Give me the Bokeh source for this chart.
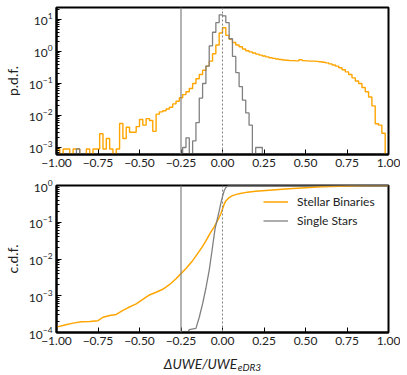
import numpy as np
from bokeh.plotting import figure
from bokeh.models import Range1d, Span, Label, FixedTicker, Legend, LegendItem
from bokeh.layouts import column
from bokeh.embed import file_html
from bokeh.resources import INLINE

# ---------------- data ----------------
bin_start = -1.0
bin_width = 0.02
n_bins = 100

# p.d.f. of Stellar Binaries, one value per bin starting at -1.00
pdf_binaries = [
    9e-4, 0, 9e-4, 9e-4, 0, 9e-4, 9e-4, 0, 0, 9e-4,
    0, 9e-4, 9e-4, 2.7e-3, 9e-4, 1.9e-3, 9e-4, 0, 9e-4, 5.6e-3,
    1.9e-3, 4.3e-3, 3.0e-3, 3.0e-3, 4.5e-3, 7.5e-3, 5.0e-3, 8.0e-3, 7.0e-3, 3.2e-3,
    1.1e-2, 1.3e-2, 1.4e-2, 1.6e-2, 1.8e-2, 2.3e-2, 2.8e-2, 3.6e-2, 4.5e-2, 5.5e-2,
    7.0e-2, 0.10, 0.14, 0.19, 0.26, 0.35, 0.50, 0.85, 1.6, 3.8,
    5.5, 3.2, 2.4, 1.9, 1.6, 1.4, 1.2, 1.05, 0.97, 0.90,
    0.83, 0.77, 0.72, 0.68, 0.64, 0.61, 0.58, 0.56, 0.54, 0.53,
    0.52, 0.52, 0.51, 0.55, 0.52, 0.51, 0.50, 0.50, 0.49, 0.48,
    0.46, 0.44, 0.41, 0.38, 0.35, 0.31, 0.27, 0.23, 0.19, 0.15,
    0.12, 0.10, 0.075, 0.055, 0.038, 0.020, 5.5e-3, 5.0e-3, 2.8e-3, 0,
]

# p.d.f. of Single Stars, one value per bin starting at -1.00
pdf_singles = [
    0, 0, 0, 0, 0, 0, 9e-4, 0, 0, 0,
    0, 0, 0, 0, 0, 0, 0, 0, 0, 0,
    0, 0, 0, 0, 0, 0, 0, 0, 0, 0,
    0, 0, 0, 0, 0, 0, 0, 0, 1e-3, 2e-3,
    0, 1.6e-3, 6e-3, 0.035, 0.1, 0.35, 1.5, 4.0, 8.0, 14.0,
    13.0, 8.0, 2.5, 0.7, 0.22, 0.08, 0.03, 0.012, 5e-3, 0,
    1e-3, 1e-3, 0, 0, 0, 0, 0, 0, 0, 0,
    0, 0, 0, 0, 0, 0, 0, 0, 0, 0,
    0, 0, 0, 0, 0, 0, 0, 0, 0, 0,
    0, 0, 0, 0, 0, 0, 0, 0, 0, 0,
]

# c.d.f. curves (x, value)
cdf_bin_x = [-1.0, -0.95, -0.90, -0.85, -0.80, -0.75, -0.72, -0.68, -0.64, -0.60,
             -0.57, -0.52, -0.48, -0.44, -0.40, -0.36, -0.32, -0.28, -0.25, -0.22,
             -0.18, -0.15, -0.12, -0.10, -0.075, -0.05, -0.03, -0.01, 0.0, 0.01,
             0.02, 0.04, 0.06, 0.10, 0.15, 0.20, 0.30, 0.40, 0.50, 0.60,
             0.70, 0.80, 0.90, 1.0]
cdf_bin_y = [1.4e-4, 1.6e-4, 1.8e-4, 1.95e-4, 2.0e-4, 2.1e-4, 2.6e-4, 2.9e-4, 3.1e-4, 4.0e-4,
             4.7e-4, 6.0e-4, 8.0e-4, 1.05e-3, 1.25e-3, 1.5e-3, 2.0e-3, 2.9e-3, 4.0e-3, 5.5e-3,
             9e-3, 0.014, 0.022, 0.031, 0.05, 0.075, 0.11, 0.17, 0.23, 0.31,
             0.38, 0.47, 0.53, 0.60, 0.66, 0.70, 0.76, 0.82, 0.87, 0.92,
             0.96, 0.99, 1.0, 1.0]

cdf_single_x = [-0.22, -0.20, -0.16, -0.14, -0.12, -0.10, -0.08, -0.063, -0.045, -0.03,
                -0.02, -0.01, 0.0, 0.01, 0.02, 0.03, 0.04, 0.06, 1.0]
cdf_single_y = [8e-5, 1.2e-4, 1.3e-4, 2.6e-4, 6e-4, 1.6e-3, 5e-3, 0.017, 0.066, 0.13,
                0.2, 0.33, 0.5, 0.72, 0.88, 0.96, 0.99, 1.0, 1.0]

x_ticks = [-1.0, -0.75, -0.5, -0.25, 0.0, 0.25, 0.5, 0.75, 1.0]
x_tick_labels = ["\u22121.00", "\u22120.75", "\u22120.50", "\u22120.25", "0.00",
                 "0.25", "0.50", "0.75", "1.00"]

ORANGE = "#FFA500"
GRAY = "#808080"
FONT = "Lato"
W = 400
BL, BR = 53, 12


def make_fig(y_lo, y_hi, height, top_b, bot_b, ylabel):
    p = figure(width=W, height=height,
               x_range=Range1d(-1, 1), y_range=Range1d(y_lo, y_hi),
               y_axis_type="log", output_backend="svg", toolbar_location=None,
               min_border_left=BL, min_border_right=BR,
               min_border_top=top_b, min_border_bottom=bot_b,
               background_fill_color="white", border_fill_color="white")
    p.outline_line_color = "black"
    p.outline_line_width = 2
    p.outline_line_alpha = 1
    p.grid.visible = False
    for ax in p.axis:
        ax.axis_line_width = 2
        ax.axis_line_color = "black"
        ax.major_tick_in = 5
        ax.major_tick_out = 0
        ax.minor_tick_in = 3
        ax.minor_tick_out = 0
        ax.major_tick_line_color = "black"
        ax.minor_tick_line_color = "black"
        ax.major_label_text_font = FONT
        ax.major_label_text_font_size = "12px"
        ax.major_label_text_color = "#222222"
        ax.major_label_standoff = 4
    p.xaxis.minor_tick_line_color = None
    p.xaxis.ticker = FixedTicker(ticks=x_ticks)
    p.xaxis.major_label_overrides = {t: l for t, l in zip(x_ticks, x_tick_labels)}
    p.yaxis.axis_label = ylabel
    p.yaxis.axis_label_text_font = FONT
    p.yaxis.axis_label_text_font_style = "normal"
    p.yaxis.axis_label_text_font_size = "14px"
    p.yaxis.axis_label_text_color = "#222222"
    p.yaxis.axis_label_standoff = 5
    p.add_layout(Span(location=-0.25, dimension="height", line_color=GRAY, line_width=1.2))
    p.add_layout(Span(location=0.0, dimension="height", line_color=GRAY, line_width=1,
                      line_dash="2 2"))
    return p


def step_xy(vals, floor):
    edges = bin_start + bin_width * np.arange(n_bins + 1)
    v = np.array(vals, dtype=float)
    v = np.where(v > 0, v, floor)
    xs = np.concatenate([[edges[0]], np.repeat(edges, 2)[1:-1], [edges[-1]]])
    ys = np.concatenate([[floor], np.repeat(v, 2), [floor]])
    return xs, ys


# ---------------- top: p.d.f. ----------------
p1 = make_fig(6.04e-4, 23.7, 175, 7, 21, "p.d.f.")
xs, ys = step_xy(pdf_binaries, 1e-6)
p1.line(xs, ys, line_color=ORANGE, line_width=1.4)
xs, ys = step_xy(pdf_singles, 1e-6)
p1.line(xs, ys, line_color=GRAY, line_width=1.3)

# ---------------- bottom: c.d.f. ----------------
p2 = make_fig(1e-4, 1.0, 177, 10, 20, "c.d.f.")
r_o = p2.line(cdf_bin_x, cdf_bin_y, line_color=ORANGE, line_width=1.5)
r_g = p2.line(cdf_single_x, cdf_single_y, line_color=GRAY, line_width=1.3)

legend = Legend(items=[LegendItem(label="Stellar Binaries", renderers=[r_o]),
                       LegendItem(label="Single Stars", renderers=[r_g])],
                location=(207, 104), border_line_color=None, background_fill_alpha=0,
                label_text_font=FONT, label_text_font_size="12px",
                label_text_color="#222222", glyph_width=25, glyph_height=15,
                label_height=15, label_standoff=9, spacing=4, padding=5, margin=0)
p2.add_layout(legend)

# ---------------- x-axis title strip ----------------
p3 = figure(width=W, height=23, x_range=Range1d(-1, 1), y_range=Range1d(0, 1),
            x_axis_type=None, y_axis_type=None, output_backend="svg",
            toolbar_location=None, min_border_left=BL, min_border_right=BR,
            min_border_top=0, min_border_bottom=0,
            background_fill_color="white", border_fill_color="white")
p3.outline_line_color = None
p3.grid.visible = False
p3.add_layout(Label(x=0.087, y=0, text="\u0394UWE/UWE", text_font=FONT,
                    text_font_style="italic", text_font_size="13.5px", text_color="#222222",
                    text_align="right", text_baseline="alphabetic", y_offset=12))
p3.add_layout(Label(x=0.092, y=0, text="eDR3", text_font=FONT,
                    text_font_style="italic", text_font_size="10px", text_color="#222222",
                    text_align="left", text_baseline="alphabetic", y_offset=8.5))

layout = column(p1, p2, p3, spacing=0)
open("out.html", "w").write(file_html(layout, INLINE))
